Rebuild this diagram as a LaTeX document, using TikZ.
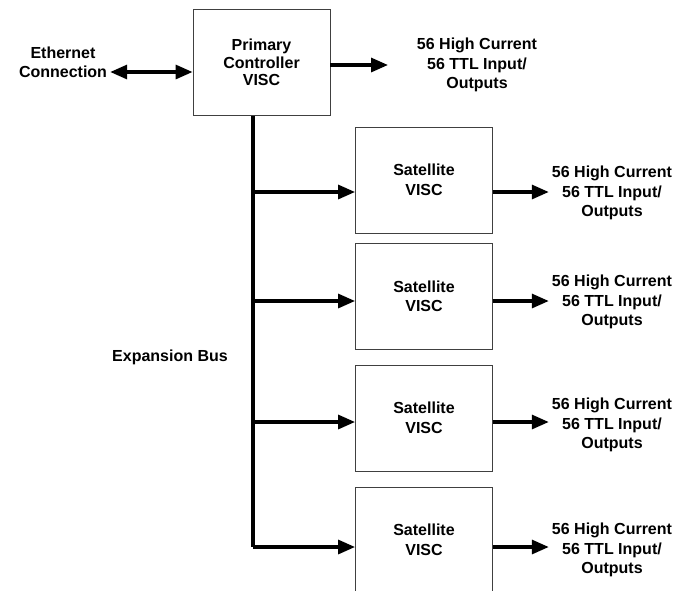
\documentclass[tikz,border=0pt]{standalone}
\usepackage{fontspec}
\setmainfont{Liberation Sans}
\usetikzlibrary{positioning, arrows.meta, calc}
\tikzset{txt/.style={align=center,inner sep=2pt,font=\fontsize{16}{19.5}\selectfont\bfseries}}

\begin{document}
\begin{tikzpicture}[
		x=1pt, y=-1pt,
		unit/.style={draw=black!75, line width=0.9pt, rectangle, minimum width=137pt, minimum height=106pt, txt},
		arrow/.style={-{Triangle[length=17pt,width=14pt]}, line width=3.2pt},
		dblarrow/.style={{Triangle[length=17pt,width=14pt]}-{Triangle[length=17pt,width=14pt]}, line width=3.2pt},
		bus/.style={line width=3.2pt}
		]
		\useasboundingbox (0,0) rectangle (691,590);
		\clip (0,0) rectangle (691,590);
		% Primary controller
		
		\node[unit, font=\fontsize{16}{17.5}\selectfont\bfseries] (primary) at (261.5,62.5) {Primary\\Controller\\VISC};
		\node[txt] (ether) at (63,62.5) {Ethernet\\Connection};
		\node[txt] (out0) at (477,65) {56 High Current\\56 TTL Input/\\Outputs};
		\coordinate (stub0) at (388,65);
		\draw[dblarrow] ($(ether.east)+(1,9.5)$) -- ($(primary.west)+(0,9.5)$);
		\draw[arrow] (primary.east |- stub0) -- (stub0);
		
		% Satellites
		
		\node[unit] (sat1) at (424,180) {Satellite\\VISC};
		\node[unit] (sat2) at (424,296.5) {Satellite\\VISC};
		\node[unit] (sat3) at (424,418) {Satellite\\VISC};
		\node[unit] (sat4) at (424,540) {Satellite\\VISC};
		
		\node[txt] (out1) at (612,193) {56 High Current\\56 TTL Input/\\Outputs};
		\node[txt] (out2) at (612,302) {56 High Current\\56 TTL Input/\\Outputs};
		\node[txt] (out3) at (612,425) {56 High Current\\56 TTL Input/\\Outputs};
		\node[txt] (out4) at (612,550) {56 High Current\\56 TTL Input/\\Outputs};
		
		% Expansion bus
		
		\coordinate (tap1) at (253,192);
		\coordinate (tap2) at (253,301);
		\coordinate (tap3) at (253,422);
		\coordinate (tap4) at (253,547);
		\node[txt] (busname) at (170,357) {Expansion Bus};
		\draw[bus] (tap1 |- primary.south) -- (tap4);
		
		\foreach \i in {1,2,3,4}{
			\draw[arrow] (tap\i) -- (sat\i.west |- tap\i);
			\draw[arrow] (sat\i.east |- tap\i) -- ([xshift=-1pt]out\i.west |- tap\i);
		}
	\end{tikzpicture}
\end{document}
